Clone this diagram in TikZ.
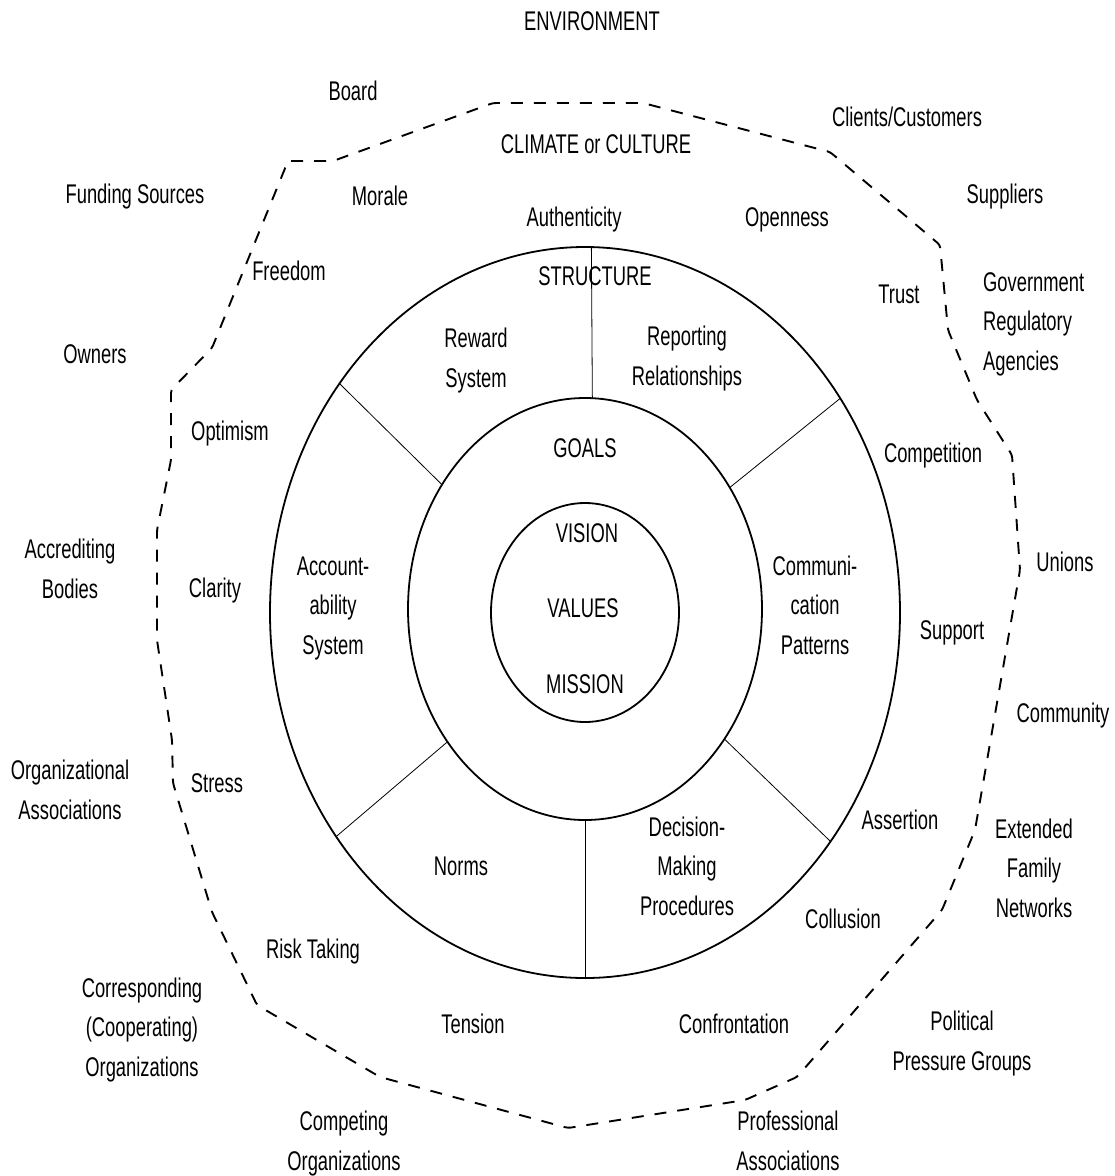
\documentclass[tikz,border=0pt]{standalone}
\usepackage{fontspec}
\setmainfont{Liberation Sans}[FakeStretch=0.68]
\usetikzlibrary{shapes.geometric}
\tikzset{lbl/.style={font=\fontsize{27}{39.3}\selectfont, align=center, anchor=base, inner sep=0pt}}
\tikzset{ring/.style={draw, ellipse, line width=1.8pt, inner sep=0pt, outer sep=0pt}}
\tikzset{spoke/.style={line width=0.8pt}}
\tikzset{bound/.style={line width=1.9pt, dash pattern=on 12pt off 11pt, rounded corners=3pt}}

\begin{document}
\begin{tikzpicture}[x=1pt,y=-1pt]
        \useasboundingbox (0,0) rectangle (1115,1176);

        % rings
        \node[ring, minimum width=630pt, minimum height=731pt] (outer) at (585,612.5) {};
        \node[ring, minimum width=354pt, minimum height=422pt] (mid) at (585,609) {};
        \node[ring, minimum width=188pt, minimum height=219pt] (core) at (585,612.5) {};

        % spokes of the structure ring
        \draw[spoke] (mid.88) -- (outer.89);
        \draw[spoke] (mid.139) -- (outer.137);
        \draw[spoke] (mid.40) -- (outer.40);
        \draw[spoke] (mid.224) -- (outer.222);
        \draw[spoke] (mid.317) -- (outer.317);
        \draw[spoke] (mid.270) -- (outer.270);

        % climate boundary
        \draw[bound] (288,161) -- (333,161) -- (493,103) -- (643,103) -- (830,152)
         -- (940,245) -- (948,330) -- (977,400) -- (1012,455) -- (1020,570)
         -- (975,830) -- (942,910) -- (797,1077) -- (745,1100) -- (568,1128)
         -- (380,1077) -- (257,1005) -- (212,912) -- (173,783) -- (172,740)
         -- (157,640) -- (157,530) -- (171,460) -- (171,390) -- (212,348) -- cycle;

        % core (baselines of last lines)
        \node[lbl] (vision) at (587,542) {VISION};
        \node[lbl] (values) at (583,617) {VALUES};
        \node[lbl] (mission) at (585,693) {MISSION};

        % goals and structure
        \node[lbl] (goals) at (585,457) {GOALS};
        \node[lbl] (structure) at (595,285) {STRUCTURE};
        \node[lbl] (reward) at (476,387) {Reward\\System};
        \node[lbl] (reporting) at (687,385) {Reporting\\Relationships};
        \node[lbl] (account) at (333,654) {Account-\\ability\\System};
        \node[lbl] (communi) at (815,654) {Communi-\\cation\\Patterns};
        \node[lbl] (norms) at (461,875) {Norms};
        \node[lbl] (decision) at (687,915) {Decision-\\Making\\Procedures};

        % climate or culture
        \node[lbl] (climate) at (596,153) {CLIMATE or CULTURE};
        \node[lbl] (morale) at (380,205) {Morale};
        \node[lbl] (authentic) at (574,226) {Authenticity};
        \node[lbl] (openness) at (787,226) {Openness};
        \node[lbl] (freedom) at (289,280) {Freedom};
        \node[lbl] (trust) at (899,303) {Trust};
        \node[lbl] (optimism) at (230,440) {Optimism};
        \node[lbl] (competition) at (933,462) {Competition};
        \node[lbl] (clarity) at (215,597) {Clarity};
        \node[lbl] (support) at (952,639) {Support};
        \node[lbl] (stress) at (217,792) {Stress};
        \node[lbl] (assertion) at (900,829) {Assertion};
        \node[lbl] (collusion) at (843,928) {Collusion};
        \node[lbl] (risk) at (313,958) {Risk Taking};
        \node[lbl] (tension) at (473,1033) {Tension};
        \node[lbl] (confront) at (734,1033) {Confrontation};

        % environment
        \node[lbl] (env) at (592,30) {ENVIRONMENT};
        \node[lbl] (board) at (353,100) {Board};
        \node[lbl] (clients) at (907,126) {Clients/Customers};
        \node[lbl] (funding) at (135,203) {Funding Sources};
        \node[lbl] (suppliers) at (1005,203) {Suppliers};
        \node[lbl, align=left, anchor=base west] (govt) at (983,370) {Government\\Regulatory\\Agencies};
        \node[lbl] (owners) at (95,363) {Owners};
        \node[lbl] (accred) at (70,598) {Accrediting\\Bodies};
        \node[lbl] (unions) at (1065,571) {Unions};
        \node[lbl] (community) at (1063,722) {Community};
        \node[lbl] (orgassoc) at (70,819) {Organizational\\Associations};
        \node[lbl] (family) at (1034,917) {Extended\\Family\\Networks};
        \node[lbl] (corresp) at (142,1076) {Corresponding\\(Cooperating)\\Organizations};
        \node[lbl] (political) at (962,1070) {Political\\Pressure Groups};
        \node[lbl] (competing) at (344,1170) {Competing\\Organizations};
        \node[lbl] (profassoc) at (788,1170) {Professional\\Associations};
\end{tikzpicture}
\end{document}
